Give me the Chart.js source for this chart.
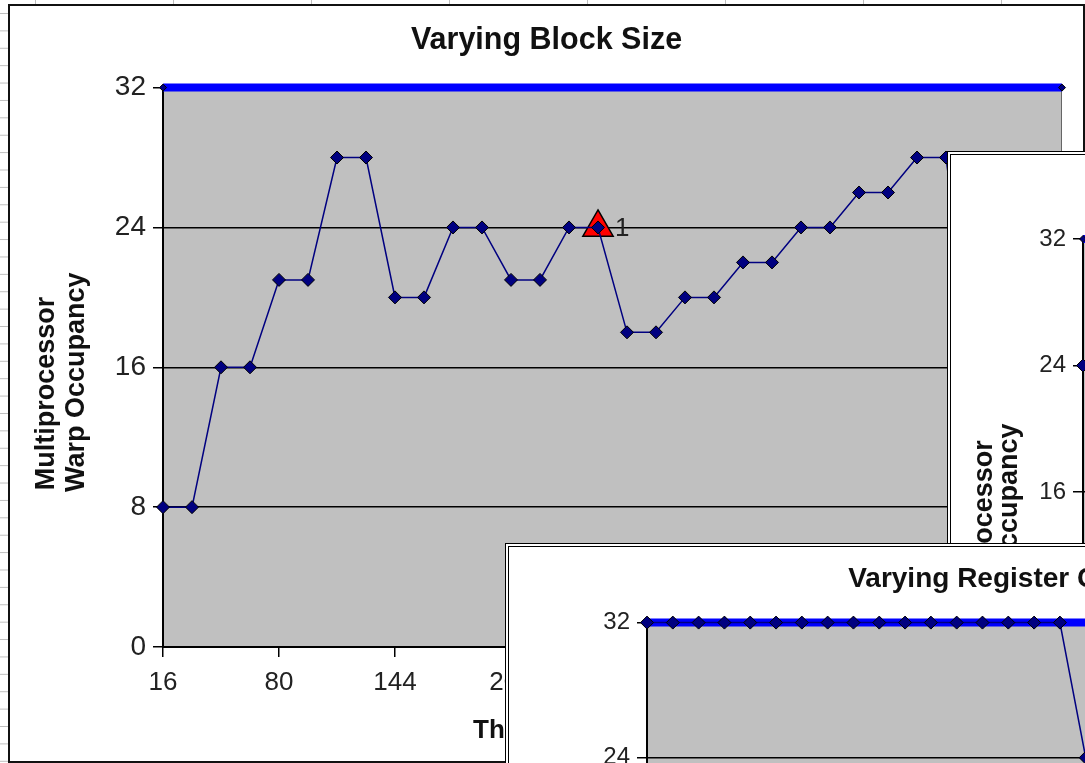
<!DOCTYPE html>
<html lang="en">
<head>
<meta charset="UTF-8">
<title>Occupancy charts</title>
<style>
    body {
        margin: 0;
        width: 1085px;
        height: 763px;
        overflow: hidden;
        position: relative;
        background-color: #fff;
        /* spreadsheet grid behind the chart windows */
        background-image:
            linear-gradient(to bottom, #bdbdbd 1px, transparent 1px),
            linear-gradient(to right, #bdbdbd 1px, transparent 1px);
        background-size: 100% 17.4px, 138px 100%;
        background-position: 0 13px, 35px 0;
    }
    .win { position: absolute; background: #fff; }
    #w1 { left: 8px; top: 4px; border: 2px solid #111; z-index: 1; }
    #w2 { left: 947px; top: 151px; border: 4px double #000; z-index: 2; }
    #w3 { left: 505px; top: 543px; border: 4px double #000; z-index: 3; }
    canvas { display: block; }
</style>
</head>
<body>
    <div class="win" id="w1"><canvas id="blockChart" width="1073" height="755"></canvas></div>
    <div class="win" id="w2"><canvas id="smemChart" width="1000" height="704"></canvas></div>
    <div class="win" id="w3"><canvas id="regChart" width="988" height="730"></canvas></div>

    <script src="https://cdn.jsdelivr.net/npm/chart.js"></script>
    <script>
        // y axis, shared by the three charts
        const warpTicks = [0, 8, 16, 24, 32];
        const maxWarps = 32;

        // Varying Block Size
        const blockSizes = [16, 32, 48, 64, 80, 96, 112, 128, 144, 160, 176, 192, 208, 224, 240, 256,
                            272, 288, 304, 320, 336, 352, 368, 384, 400, 416, 432, 448, 464, 480, 496, 512];
        const blockWarps = [8, 8, 16, 16, 21, 21, 28, 28, 20, 20, 24, 24, 21, 21, 24, 24,
                            18, 18, 20, 20, 22, 22, 24, 24, 26, 26, 28, 28, 15, 15, 16, 16];
        const blockTicks = [16, 80, 144, 208, 272, 336, 400, 464];
        const myBlockSize = 256;
        const myBlockWarps = 24;

        // Varying Shared Memory Usage (window behind, mostly covered)
        const smemSizes = [0, 512, 1024, 1536, 2048, 2560, 3072, 3584, 4096, 4608, 5120, 5632, 6144, 6656, 7168, 7680, 8192,
                           8704, 9216, 9728, 10240, 10752, 11264, 11776, 12288, 12800, 13312, 13824, 14336, 14848, 15360, 15872, 16384];
        const smemWarps = [24, 24, 24, 24, 24, 24, 24, 24, 24, 24, 24, 16, 16, 16, 16, 16, 16,
                           8, 8, 8, 8, 8, 8, 8, 8, 8, 8, 8, 8, 8, 8, 8, 8];

        // Varying Register Count (front window, cut by the screen edge)
        const regCounts = [1, 2, 3, 4, 5, 6, 7, 8, 9, 10, 11, 12, 13, 14, 15, 16,
                           17, 18, 19, 20, 21, 22, 23, 24, 25, 26, 27, 28, 29, 30, 31, 32];
        const regWarps = [32, 32, 32, 32, 32, 32, 32, 32, 32, 32, 32, 32, 32, 32, 32, 32,
                          32, 24, 24, 24, 24, 16, 16, 16, 16, 16, 16, 16, 16, 16, 16, 16];

        const navy = '#000080';
        Chart.defaults.font.family = '"Liberation Sans", Arial, sans-serif';
        Chart.defaults.color = '#222';

        const pad = (s, n) => s + ' '.repeat(n);

        // grey plot area
        const plotBackground = {
            id: 'plotBackground',
            beforeDraw(chart) {
                const {ctx, chartArea: a} = chart;
                ctx.save();
                ctx.fillStyle = '#c0c0c0';
                ctx.fillRect(a.left, a.top, a.width, a.height);
                ctx.strokeStyle = '#666';
                ctx.lineWidth = 1;
                ctx.strokeRect(a.left + 0.5, a.top + 0.5, a.width - 1, a.height - 1);
                ctx.restore();
            }
        };

        // the "1" next to the red triangle
        const markLabel = {
            id: 'markLabel',
            afterDatasetsDraw(chart) {
                chart.data.datasets.forEach((ds, i) => {
                    if (!ds.markText) return;
                    const p = chart.getDatasetMeta(i).data[0];
                    const ctx = chart.ctx;
                    ctx.save();
                    ctx.font = '26px "Liberation Sans", Arial, sans-serif';
                    ctx.fillStyle = '#222';
                    ctx.textBaseline = 'middle';
                    ctx.fillText(ds.markText, p.x + 17, p.y + 1);
                    ctx.restore();
                });
            }
        };

        function occupancyChart(id, o) {
            const datasets = [{
                data: o.xs.map((x, i) => ({x: x, y: o.ys[i]})),
                borderColor: navy,
                borderWidth: 1.5,
                pointStyle: 'rectRot',
                pointRadius: 6.5,
                pointBackgroundColor: navy,
                pointBorderColor: '#000',
                pointBorderWidth: 1,
                order: 1,
                clip: false
            }, {
                // max warps per multiprocessor
                data: [{x: o.xs[0], y: maxWarps}, {x: o.xs[o.xs.length - 1], y: maxWarps}],
                borderColor: '#0000ff',
                borderWidth: 8,
                pointStyle: 'rectRot',
                pointRadius: 3.5,
                pointBackgroundColor: navy,
                pointBorderColor: '#000',
                pointBorderWidth: 1,
                order: 3,
                clip: false
            }];
            if (o.mark) {
                datasets.push({
                    data: [{x: o.mark[0], y: o.mark[1]}],
                    showLine: false,
                    pointStyle: 'triangle',
                    pointRadius: 17.5,
                    pointBackgroundColor: '#ff0000',
                    pointBorderColor: '#000',
                    pointBorderWidth: 1.5,
                    markText: '1',
                    order: 2,
                    clip: false
                });
            }

            return new Chart(document.getElementById(id), {
                type: 'line',
                data: { datasets: datasets },
                plugins: [plotBackground, markLabel],
                options: {
                    responsive: false,
                    animation: false,
                    events: [],
                    layout: { padding: 0 },
                    plugins: {
                        legend: { display: false },
                        tooltip: { enabled: false },
                        title: {
                            display: true,
                            text: o.title,
                            color: '#111',
                            font: { size: o.titleSize, weight: 'bold' },
                            padding: o.titlePad
                        }
                    },
                    scales: {
                        x: {
                            type: 'linear',
                            min: o.xs[0],
                            max: o.xs[o.xs.length - 1],
                            afterBuildTicks: o.xTicks ? s => { s.ticks = o.xTicks.map(v => ({value: v})); } : undefined,
                            afterFit: s => { s.height = o.xHeight; },
                            grid: { drawOnChartArea: false, color: '#000', lineWidth: 1.5, tickLength: 10 },
                            border: { color: '#000', width: 2 },
                            ticks: { font: { size: o.tickSize }, padding: 10, maxRotation: 0, stepSize: o.xStep },
                            title: {
                                display: true,
                                text: o.xTitle,
                                color: '#111',
                                font: { size: o.tickSize, weight: 'bold' },
                                padding: { top: 0, bottom: 15 }
                            }
                        },
                        y: {
                            min: 0,
                            max: maxWarps,
                            afterBuildTicks: s => { s.ticks = warpTicks.map(v => ({value: v})); },
                            afterFit: s => { s.width = o.yWidth; },
                            grid: { color: '#000', lineWidth: 1.5, tickLength: 10 },
                            border: { color: '#000', width: 2 },
                            ticks: { font: { size: o.yTickSize }, padding: 7 },
                            title: {
                                display: true,
                                text: o.yTitle,
                                color: '#111',
                                font: { size: o.yTitleSize, weight: 'bold', lineHeight: o.yTitleLine },
                                padding: { top: o.yTitlePad, bottom: 0 }
                            }
                        },
                        // empty strip on the right so the title stays centred on the window
                        side: {
                            axis: 'y',
                            type: 'linear',
                            position: 'right',
                            grid: { display: false },
                            border: { display: false },
                            ticks: { display: false },
                            afterFit: s => { s.width = o.padRight; }
                        }
                    }
                }
            });
        }

        occupancyChart('blockChart', {
            title: 'Varying Block Size', titleSize: 30.5, titlePad: { top: 16, bottom: 29 },
            xs: blockSizes, ys: blockWarps, xTicks: blockTicks,
            xTitle: pad('Threads Per Block', 7),
            yTitle: [pad('Multiprocessor', 7), pad('Warp Occupancy', 4)],
            yTitleSize: 27, yTitleLine: 1.1, yTitlePad: 22,
            tickSize: 26, yTickSize: 28, yWidth: 153, xHeight: 114, padRight: 21,
            mark: [myBlockSize, myBlockWarps]
        });

        occupancyChart('smemChart', {
            title: 'Varying Shared Memory Usage', titleSize: 25, titlePad: { top: 14, bottom: 40 },
            xs: smemSizes, ys: smemWarps, xStep: 4096,
            xTitle: 'Shared Memory Per Block',
            yTitle: [pad('Multiprocessor', 12), pad('Warp Occupancy', 11)],
            yTitleSize: 27, yTitleLine: 0.93, yTitlePad: 21,
            tickSize: 22, yTickSize: 24, yWidth: 132, xHeight: 114, padRight: 68
        });

        occupancyChart('regChart', {
            title: 'Varying Register Count', titleSize: 28, titlePad: { top: 15, bottom: 27 },
            xs: regCounts, ys: regWarps, xStep: 8,
            xTitle: 'Registers Per Thread',
            yTitle: [pad('Multiprocessor', 7), pad('Warp Occupancy', 4)],
            yTitleSize: 25, yTitleLine: 1.1, yTitlePad: 22,
            tickSize: 24, yTickSize: 24, yWidth: 138, xHeight: 114, padRight: 50
        });
    </script>
</body>
</html>
